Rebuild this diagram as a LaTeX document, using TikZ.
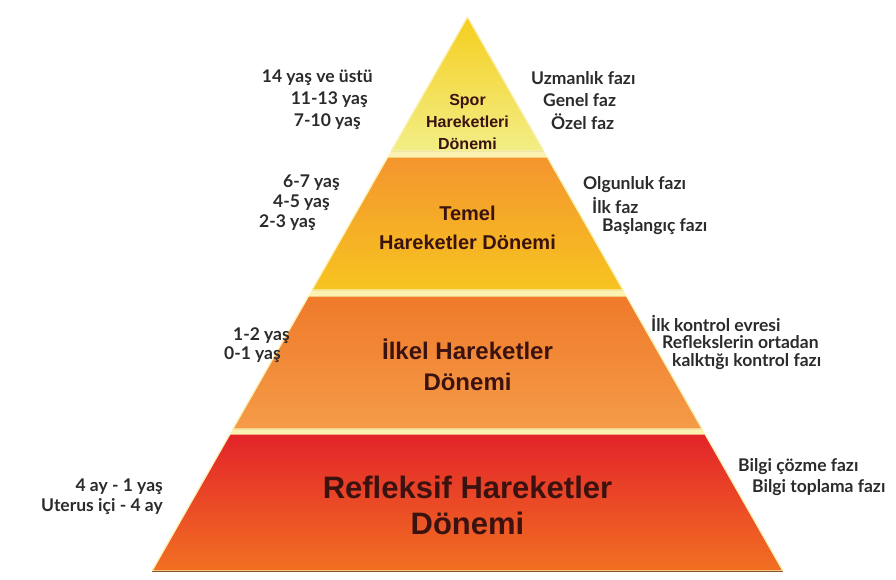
\documentclass[tikz,border=0pt]{standalone}
\usepackage{fontspec}
\setmainfont{Lato}
\newfontfamily\titlefont{Liberation Sans}
\usepackage{tikz}
\usetikzlibrary{calc}

\definecolor{stripcol}{HTML}{FBF1B0}
\definecolor{sporTop}{HTML}{F6CE1E}
\definecolor{sporBot}{HTML}{F2EE86}
\definecolor{temelTop}{HTML}{F4952E}
\definecolor{temelBot}{HTML}{F7C420}
\definecolor{ilkelTop}{HTML}{EF7A2A}
\definecolor{ilkelBot}{HTML}{F59B48}
\definecolor{reflTop}{HTML}{E3232A}
\definecolor{reflBot}{HTML}{F27022}
\definecolor{sidegray}{HTML}{2B2B2B}
\definecolor{titlecol}{HTML}{3A1210}

\tikzstyle{band} = [draw=stripcol, line width=1.2pt, line join=round]
\tikzstyle{side} = [font=\bfseries\fontsize{17.5}{19}\selectfont, text=sidegray, inner sep=0pt]
\tikzstyle{age} = [side, anchor=east]
\tikzstyle{phase} = [side, anchor=west]
\tikzstyle{title} = [font=\titlefont\bfseries, text=titlecol, align=center, inner sep=0pt]

\begin{document}
\begin{tikzpicture}[x=1pt, y=-1pt]
\useasboundingbox (0,0) rectangle (896,579);

\coordinate (apex) at (467.5,17);
\coordinate (bl) at (152,571);
\coordinate (br) at (783,571);

\fill[stripcol] (apex) -- (bl) -- (br) -- cycle;
\filldraw[band, top color=sporTop, bottom color=sporBot] (apex) -- ($(apex)!0.2419!(bl)$) -- ($(apex)!0.2419!(br)$) -- cycle;
\filldraw[band, top color=temelTop, bottom color=temelBot] ($(apex)!0.2527!(bl)$) -- ($(apex)!0.4928!(bl)$) -- ($(apex)!0.4928!(br)$) -- ($(apex)!0.2527!(br)$) -- cycle;
\filldraw[band, top color=ilkelTop, bottom color=ilkelBot] ($(apex)!0.5036!(bl)$) -- ($(apex)!0.7437!(bl)$) -- ($(apex)!0.7437!(br)$) -- ($(apex)!0.5036!(br)$) -- cycle;
\filldraw[band, top color=reflTop, bottom color=reflBot] ($(apex)!0.7527!(bl)$) -- (bl) -- (br) -- ($(apex)!0.7527!(br)$) -- cycle;
\draw[brown!70!black, line width=0.8pt] (bl) -- (br);

\node (spor) [title, font=\titlefont\bfseries\fontsize{16}{22}\selectfont] at (467.5,122) {Spor\\Hareketleri\\Dönemi};
\node (temel) [title, font=\titlefont\bfseries\fontsize{20}{29}\selectfont] at (467.5,228) {Temel\\Hareketler Dönemi};
\node (ilkel) [title, font=\titlefont\bfseries\fontsize{24}{31}\selectfont] at (467.5,365) {İlkel Hareketler\\Dönemi};
\node (refl) [title, font=\titlefont\bfseries\fontsize{31}{36}\selectfont] at (467.5,505) {Refleksif Hareketler\\Dönemi};

\node (spAge1) [age] at (373,78) {14 yaş ve üstü};
\node (spAge2) [age] at (368,100) {11-13 yaş};
\node (spAge3) [age] at (361,122) {7-10 yaş};
\node (spFaz1) [phase] at (531,78) {Uzmanlık fazı};
\node (spFaz2) [phase] at (543,100) {Genel faz};
\node (spFaz3) [phase] at (551,122) {Özel faz};

\node (teAge1) [age] at (340,183) {6-7 yaş};
\node (teAge2) [age] at (330,203) {4-5 yaş};
\node (teAge3) [age] at (316,223) {2-3 yaş};
\node (teFaz1) [phase] at (583,185) {Olgunluk fazı};
\node (teFaz2) [phase] at (592,205) {İlk faz};
\node (teFaz3) [phase] at (602,227) {Başlangıç fazı};

\node (ilAge1) [age] at (290,336) {1-2 yaş};
\node (ilAge2) [age] at (281,355) {0-1 yaş};
\node (ilFaz1) [phase] at (651,323) {İlk kontrol evresi};
\node (ilFaz2) [phase] at (662,342) {Reflekslerin ortadan};
\node (ilFaz3) [phase] at (672,362) {kalktığı kontrol fazı};

\node (reAge1) [age] at (163,487) {4 ay - 1 yaş};
\node (reAge2) [age] at (163,507) {Uterus içi - 4 ay};
\node (reFaz1) [phase] at (738,467) {Bilgi çözme fazı};
\node (reFaz2) [phase] at (752,488) {Bilgi toplama fazı};

\end{tikzpicture}
\end{document}
